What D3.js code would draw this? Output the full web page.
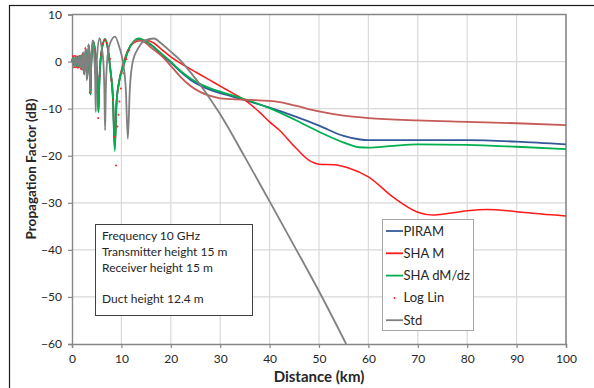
<!DOCTYPE html>
<html lang="en">

<head>
    <meta charset="UTF-8">
    <title>Propagation Factor</title>
    <script src="https://cdn.jsdelivr.net/npm/d3@7"></script>
    <style>
        body {
            margin: 0;
            background: white;
        }

        text {
            font-family: Lato, "Open Sans", sans-serif;
            fill: #262626;
        }
    </style>
</head>

<body>
    <svg id="chart" width="594" height="388"></svg>

    <script>
        // axis ticks
        const xTicks = [0, 10, 20, 30, 40, 50, 60, 70, 80, 90, 100];
        const yTicks = [-60, -50, -40, -30, -20, -10, 0, 10];

        // PIRAM
        const piramKm = [0, 0.25, 0.5, 0.75, 1.0, 1.25, 1.5, 1.75, 2.0, 2.25, 2.5, 2.8, 3.1, 3.4, 3.6, 3.75, 3.9, 4.3, 4.8, 5.15, 5.35, 5.55, 5.9, 6.7, 7.3, 7.8, 8.3, 8.65, 9.0, 9.5, 10.4, 11.4, 12.5, 13.6, 16, 18, 20, 22, 24, 26, 28, 30, 32, 35, 40, 45, 50, 55, 58, 60, 70, 80, 90, 100];
        const piramDb = [0, 0.9, -0.9, 1.0, -1.0, 1.0, -1.2, 1.2, -1.6, 1.8, -2.5, 2.6, -3.5, 3.4, 0, -7.0, -0.5, 4.3, 1.0, -4.0, -10.5, -4.0, 1.5, 4.7, 2.5, -2.0, -8.0, -18.5, -9.0, -4.5, -1.0, 2.4, 4.2, 4.7, 3.5, 1.6, -0.2, -2.2, -3.9, -5.1, -6.0, -6.7, -7.3, -8.2, -9.8, -11.6, -13.6, -15.8, -16.5, -16.7, -16.7, -16.7, -17.0, -17.6];

        // SHA M
        const shaMKm = [0, 0.25, 0.5, 0.75, 1.0, 1.25, 1.5, 1.75, 2.0, 2.25, 2.5, 2.8, 3.1, 3.4, 3.6, 3.75, 3.9, 4.3, 4.8, 5.15, 5.35, 5.55, 5.9, 6.7, 7.3, 7.8, 8.3, 8.65, 9.0, 9.5, 10.4, 11.2, 12.4, 13.8, 15.0, 16.5, 18, 20, 22, 24, 26, 28, 30, 32, 35, 38, 40, 42, 45, 48, 50, 53, 56, 60, 65, 70, 73, 76, 80, 84, 90, 95, 100];
        const shaMDb = [0, 0.9, -0.9, 1.0, -1.0, 1.0, -1.2, 1.2, -1.6, 1.8, -2.5, 2.6, -3.5, 3.4, 0, -7.0, -0.5, 4.3, 1.0, -4.0, -10.5, -4.0, 1.5, 4.7, 2.5, -2.0, -8.0, -18.0, -9.0, -4.5, -0.3, 2.2, 3.9, 4.5, 4.5, 4.0, 2.7, 1.0, -0.4, -1.6, -2.8, -4.0, -5.2, -6.4, -8.2, -10.8, -12.8, -14.6, -18.0, -21.0, -21.8, -21.9, -22.6, -24.5, -28.8, -32.0, -32.6, -32.3, -31.7, -31.4, -31.9, -32.4, -32.8];

        // SHA dM/dz
        const shaDmKm = [0, 0.25, 0.5, 0.75, 1.0, 1.25, 1.5, 1.75, 2.0, 2.25, 2.5, 2.8, 3.1, 3.4, 3.6, 3.75, 3.9, 4.3, 4.8, 5.15, 5.35, 5.55, 5.9, 6.7, 7.3, 7.8, 8.3, 8.65, 9.0, 9.5, 10.4, 11.4, 12.5, 13.4, 16, 18, 20, 22, 24, 26, 28, 30, 32, 35, 40, 45, 50, 55, 58, 60, 65, 70, 80, 90, 100];
        const shaDmDb = [0, 0.9, -0.9, 1.0, -1.0, 1.0, -1.2, 1.2, -1.6, 1.8, -2.5, 2.6, -3.5, 3.4, 0, -7.0, -0.5, 4.3, 1.0, -4.0, -10.8, -4.0, 1.5, 4.8, 2.5, -2.0, -8.0, -19.0, -9.0, -4.5, -1.0, 2.5, 4.3, 4.9, 3.6, 1.8, 0, -2.0, -3.6, -4.8, -5.7, -6.4, -7.0, -8.0, -9.9, -12.3, -14.9, -17.2, -18.2, -18.3, -17.9, -17.6, -17.7, -18.1, -18.6];

        // Log Lin, separate markers
        const logLinKm = [0.2, 0.4, 0.6, 0.8, 1.0, 1.2, 1.5, 1.8, 2.1, 2.4, 2.7, 3.0, 3.3, 3.6, 3.9, 4.2, 4.5, 4.7, 5.0, 5.3, 5.6, 5.9, 6.2, 6.6, 7.0, 7.4, 7.7, 8.0, 8.3, 8.6, 8.9, 9.2, 9.4, 9.6, 9.9, 10.4, 11.0, 11.6];
        const logLinDb = [1.2, -1.2, 1.2, -1.2, 1.1, -1.3, 1.2, -1.5, 1.5, -2.5, 2.8, -3.5, 3.3, -6.5, 0.5, 4.2, 2.5, -2.5, -6.5, -12.0, -3.0, 1.5, 3.8, 4.6, 4.0, 2.5, 0.6, -3.9, -8.1, -16.0, -22.1, -13.8, -11.3, -8.5, -5.7, -2.5, 0.5, 2.4];
        // Log Lin, where markers are packed into a line
        const logLinTailKm = [12.3, 13.2, 14.5, 16, 18, 20, 22, 24, 26, 28, 30, 35, 42, 45, 50, 55, 60, 70, 80, 90, 100];
        const logLinTailDb = [3.8, 4.5, 4.2, 3.0, 1.3, -0.9, -3.3, -5.2, -6.5, -7.3, -7.8, -8.1, -8.6, -9.3, -10.6, -11.5, -12.0, -12.5, -12.8, -13.1, -13.5];

        // Std
        const stdKm = [0, 0.3, 0.6, 0.9, 1.2, 1.45, 1.7, 1.9, 2.1, 2.3, 2.5, 2.75, 3.0, 3.35, 3.55, 3.7, 3.85, 4.2, 4.5, 4.7, 4.8, 4.9, 5.1, 5.6, 6.0, 6.35, 6.55, 6.7, 6.85, 7.1, 7.6, 8.7, 9.6, 10.3, 10.9, 11.3, 11.7, 12.3, 13.5, 14.8, 16.6, 18, 20, 22, 24, 26, 28, 30, 35, 40, 45, 50, 55.5];
        const stdDb = [0, 0.8, -0.9, 1.0, -1.0, 1.1, -1.3, 1.3, -1.8, 2.0, -2.8, 3.0, -4.0, 3.7, 0, -6.0, 0, 4.5, 1.0, -4.0, -10.7, -4.0, 1.5, 5.0, 3.0, 0, -6.0, -14.6, -6.0, 0, 3.5, 5.3, 3.0, 0, -6.0, -16.4, -6.0, 0, 3.0, 4.5, 4.9, 3.9, 2.1, 0.2, -2.3, -5.0, -8.0, -11.2, -20.3, -29.7, -39.2, -48.8, -60];

        const notes = ["Frequency 10 GHz", "Transmitter height 15 m", "Receiver height 15 m", "", "Duct height 12.4 m"];

        const series = [
            { name: "PIRAM", km: piramKm, db: piramDb, color: "#34589a", width: 1.8 },
            { name: "SHA M", km: shaMKm, db: shaMDb, color: "#ff1a1a", width: 1.5 },
            { name: "SHA dM/dz", km: shaDmKm, db: shaDmDb, color: "#00b050", width: 1.8 },
            { name: "Log Lin", km: logLinKm, db: logLinDb, color: "#ff2020", dots: true },
            { name: "Std", km: stdKm, db: stdDb, color: "#808080", width: 1.8 }
        ];

        const svg = d3.select("#chart");
        const plotLeft = 72, plotRight = 566, plotTop = 14.5, plotBottom = 344;

        const x = d3.scaleLinear().domain([0, 100]).range([plotLeft, plotRight]);
        const y = d3.scaleLinear().domain([-60, 10]).range([plotBottom, plotTop]);

        // outer frame
        svg.append("rect")
            .attr("x", 9.5).attr("y", 5.5)
            .attr("width", 600).attr("height", 400)
            .attr("fill", "none").attr("stroke", "#1a1a1a").attr("stroke-width", 1.2);

        // gridlines
        svg.append("g")
            .selectAll("line")
            .data(xTicks.slice(1, -1))
            .enter().append("line")
            .attr("x1", d => x(d)).attr("x2", d => x(d))
            .attr("y1", plotTop).attr("y2", plotBottom)
            .attr("stroke", "#d9d9d9").attr("stroke-width", 1.2);

        svg.append("g")
            .selectAll("line")
            .data(yTicks.slice(1, -1))
            .enter().append("line")
            .attr("x1", plotLeft).attr("x2", plotRight)
            .attr("y1", d => y(d)).attr("y2", d => y(d))
            .attr("stroke", "#d9d9d9").attr("stroke-width", 1.2);

        // axes
        const xAxis = svg.append("g")
            .attr("transform", `translate(0,${plotBottom})`)
            .call(d3.axisBottom(x).tickValues(xTicks).tickSize(4).tickPadding(6));
        const yAxis = svg.append("g")
            .attr("transform", `translate(${plotLeft},0)`)
            .call(d3.axisLeft(y).tickValues(yTicks).tickSize(4).tickPadding(6));

        [xAxis, yAxis].forEach(a => {
            a.select(".domain").attr("stroke", "#868686").attr("stroke-width", 1.4);
            a.selectAll(".tick line").attr("stroke", "#868686").attr("stroke-width", 1.2);
            a.selectAll(".tick text")
                .style("font-family", "Lato, sans-serif")
                .style("font-size", "12px")
                .attr("fill", "#262626");
        });

        // plot border top/right
        svg.append("path")
            .attr("d", `M${plotLeft},${plotTop}H${plotRight}V${plotBottom}`)
            .attr("fill", "none").attr("stroke", "#868686").attr("stroke-width", 1.6);

        const line = d3.line()
            .x(d => x(d[0]))
            .y(d => y(d[1]))
            .curve(d3.curveMonotoneX);

        series.forEach(s => {
            const pts = s.km.map((k, i) => [k, s.db[i]]);
            if (s.dots) {
                // dense tail drawn as a line
                const tail = logLinTailKm.map((k, i) => [k, logLinTailDb[i]]);
                svg.append("path")
                    .datum(tail)
                    .attr("d", line)
                    .attr("fill", "none")
                    .attr("stroke", "#c55a57")
                    .attr("stroke-width", 1.8);
                svg.append("g")
                    .selectAll("circle")
                    .data(pts)
                    .enter().append("circle")
                    .attr("cx", d => x(d[0]))
                    .attr("cy", d => y(d[1]))
                    .attr("r", 1)
                    .attr("fill", s.color);
            } else {
                svg.append("path")
                    .datum(pts)
                    .attr("d", line)
                    .attr("fill", "none")
                    .attr("stroke", s.color)
                    .attr("stroke-width", s.width)
                    .attr("stroke-linejoin", "round");
            }
        });

        // axis titles
        svg.append("text")
            .attr("x", (plotLeft + plotRight) / 2)
            .attr("y", 382)
            .attr("text-anchor", "middle")
            .style("font-size", "15px")
            .style("font-weight", "bold")
            .text("Distance (km)");

        svg.append("text")
            .attr("transform", "translate(36,169) rotate(-90)")
            .attr("text-anchor", "middle")
            .style("font-size", "13.5px")
            .style("font-weight", "bold")
            .text("Propagation Factor (dB)");

        // text box
        const note = svg.append("g").attr("transform", "translate(95.5,224.5)");
        note.append("rect")
            .attr("width", 157).attr("height", 91)
            .attr("fill", "white").attr("stroke", "#404040").attr("stroke-width", 1);
        note.selectAll("text")
            .data(notes)
            .enter().append("text")
            .attr("x", 6.5)
            .attr("y", (d, i) => 15.5 + i * 15.8)
            .style("font-size", "12px")
            .text(d => d);

        // legend
        const legend = svg.append("g").attr("transform", "translate(382.5,219.5)");
        legend.append("rect")
            .attr("width", 91).attr("height", 111)
            .attr("fill", "white").attr("stroke", "#a6a6a6").attr("stroke-width", 1);

        const item = legend.selectAll("g")
            .data(series)
            .enter().append("g")
            .attr("transform", (d, i) => `translate(0,${11.5 + i * 22.3})`);

        item.filter(d => !d.dots).append("line")
            .attr("x1", 3.5).attr("x2", 20.5)
            .attr("stroke", d => d.color)
            .attr("stroke-width", 1.8);
        item.filter(d => d.dots).append("circle")
            .attr("cx", 12).attr("r", 1)
            .attr("fill", d => d.color);
        item.append("text")
            .attr("x", 21)
            .attr("dy", "0.35em")
            .style("font-size", "13px")
            .text(d => d.name);
    </script>
</body>

</html>
